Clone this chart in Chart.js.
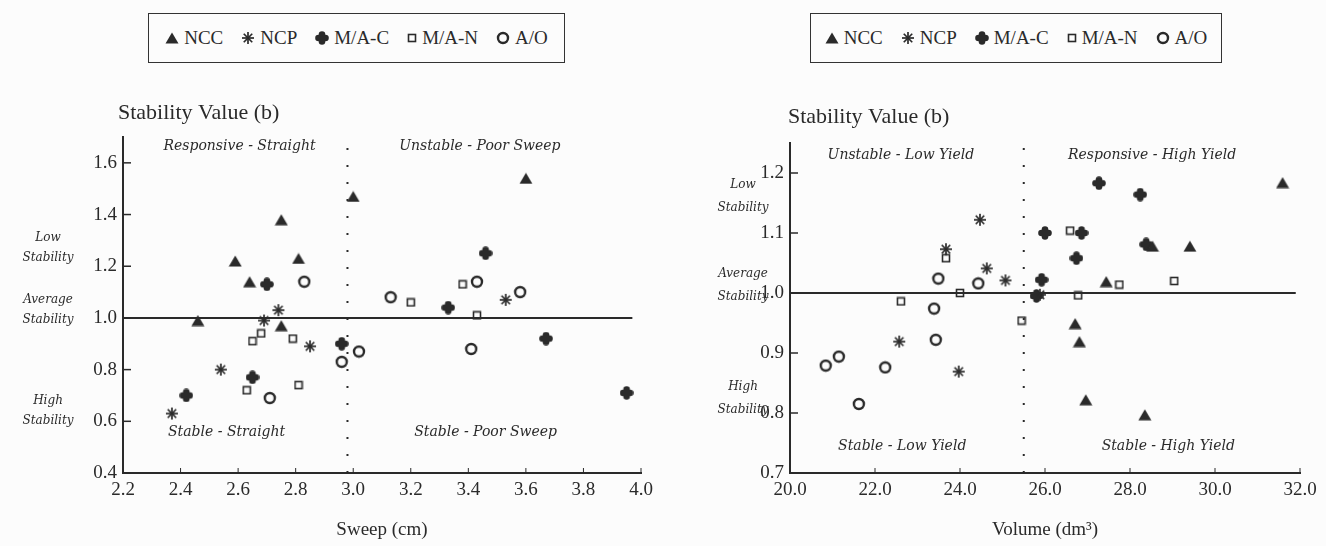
<!DOCTYPE html>
<html>
<head>
<meta charset="utf-8">
<script src="https://cdn.jsdelivr.net/npm/chart.js@4.4.0/dist/chart.umd.min.js"></script>
<style>
body { margin: 0; background: #fcfcfc; width: 1326px; height: 546px; overflow: hidden; position: relative; font-family: "Liberation Serif", serif; color: #2a2a2a; }
.wrap { position: absolute; top: 0; width: 663px; height: 546px; }
.legend { position: absolute; top: 13px; height: 50px; box-sizing: border-box; border: 1.5px solid #333; display: flex; align-items: center; justify-content: center; font-size: 19px; white-space: nowrap; }
.legend span { display: inline-flex; align-items: center; margin: 0 9px; flex: none; }
.legend img { margin-right: 5px; }
</style>
</head>
<body>
<div class="legend" id="leg1" style="left:148px;width:417px"></div>
<div class="legend" id="leg2" style="left:810px;width:412px"></div>
<div class="wrap" style="left:0"><canvas id="c1" width="663" height="546"></canvas></div>
<div class="wrap" style="left:663px"><canvas id="c2" width="663" height="546"></canvas></div>
<script>
const ink = '#2a2a2a';
const seriesNames = ['NCC', 'NCP', 'M/A-C', 'M/A-N', 'A/O'];

// Sweep (cm) vs stability value b
const sweepNCC = [2.46, 2.59, 2.64, 2.75, 2.81, 2.75, 3.00, 3.60];
const sweepNCC_b = [0.99, 1.22, 1.14, 1.38, 1.23, 0.97, 1.47, 1.54];
const sweepNCP = [2.37, 2.54, 2.69, 2.74, 2.85, 3.53];
const sweepNCP_b = [0.63, 0.80, 0.99, 1.03, 0.89, 1.07];
const sweepMAC = [2.42, 2.65, 2.70, 2.96, 3.33, 3.46, 3.67, 3.95];
const sweepMAC_b = [0.70, 0.77, 1.13, 0.90, 1.04, 1.25, 0.92, 0.71];
const sweepMAN = [2.63, 2.65, 2.68, 2.79, 2.81, 3.20, 3.38, 3.43];
const sweepMAN_b = [0.72, 0.91, 0.94, 0.92, 0.74, 1.06, 1.13, 1.01];
const sweepAO = [2.71, 2.83, 2.96, 3.02, 3.13, 3.41, 3.43, 3.58];
const sweepAO_b = [0.69, 1.14, 0.83, 0.87, 1.08, 0.88, 1.14, 1.10];

// Volume (dm3) vs stability value b
const volNCC = [26.71, 26.81, 26.96, 27.44, 28.35, 28.53, 29.41, 31.59];
const volNCC_b = [0.949, 0.919, 0.822, 1.019, 0.797, 1.078, 1.078, 1.184];
const volNCP = [22.57, 23.67, 23.97, 24.47, 24.63, 25.07, 25.88];
const volNCP_b = [0.919, 1.073, 0.869, 1.122, 1.041, 1.021, 0.997];
const volMAC = [25.80, 25.92, 26.00, 26.74, 26.86, 27.27, 28.24, 28.38];
const volMAC_b = [0.995, 1.022, 1.100, 1.058, 1.100, 1.183, 1.164, 1.081];
const volMAN = [22.61, 23.67, 24.00, 25.45, 26.59, 26.78, 27.75, 29.04];
const volMAN_b = [0.986, 1.058, 1.000, 0.954, 1.104, 0.996, 1.014, 1.020];
const volAO = [20.84, 21.15, 21.62, 22.24, 23.39, 23.43, 23.49, 24.43];
const volAO_b = [0.879, 0.894, 0.815, 0.876, 0.974, 0.922, 1.024, 1.016];

const avgStability = 1.0;
const meanSweep = 2.98;
const meanVolume = 25.5;

const sweepTicks = [2.2, 4.0, 0.2];
const volTicks = [20, 32, 2];
const sweepB = [0.4, 1.7, 0.2];
const volB = [0.7, 1.25, 0.1];

// marker images
function mk(w, h, draw) {
  const c = document.createElement('canvas');
  c.width = w; c.height = h;
  const g = c.getContext('2d');
  g.fillStyle = ink; g.strokeStyle = ink;
  draw(g);
  return c;
}
const markers = [
  mk(14, 12, g => { g.beginPath(); g.moveTo(7, 0.5); g.lineTo(13.5, 11.5); g.lineTo(0.5, 11.5); g.closePath(); g.fill(); }),
  mk(14, 14, g => {
    g.lineWidth = 1.7;
    for (let i = 0; i < 4; i++) {
      const a = i * Math.PI / 4;
      g.beginPath(); g.moveTo(7 - 6 * Math.cos(a), 7 - 6 * Math.sin(a)); g.lineTo(7 + 6 * Math.cos(a), 7 + 6 * Math.sin(a)); g.stroke();
    }
  }),
  mk(14, 14, g => {
    [[7, 3.5], [7, 10.5], [3.5, 7], [10.5, 7]].forEach(p => { g.beginPath(); g.arc(p[0], p[1], 3.3, 0, Math.PI * 2); g.fill(); });
    g.fillRect(4, 4, 6, 6);
  }),
  mk(10, 10, g => { g.lineWidth = 1.6; g.strokeRect(1.5, 1.5, 7, 7); }),
  mk(14, 14, g => { g.lineWidth = 2.4; g.beginPath(); g.arc(7, 7, 5, 0, Math.PI * 2); g.stroke(); })
];

['leg1', 'leg2'].forEach(id => {
  const el = document.getElementById(id);
  seriesNames.forEach((n, i) => {
    const s = document.createElement('span');
    const im = document.createElement('img');
    im.src = markers[i].toDataURL();
    s.appendChild(im);
    s.appendChild(document.createTextNode(n));
    el.appendChild(s);
  });
});

function pts(xs, ys) { return xs.map((v, i) => ({ x: v, y: ys[i] })); }

const decor = {
  id: 'decor',
  afterDraw(chart, args, o) {
    const { ctx, chartArea: a, scales: { x, y } } = chart;
    ctx.save();
    ctx.strokeStyle = ink; ctx.fillStyle = ink; ctx.lineWidth = 1.5;
    y.ticks.forEach(t => {
      const py = y.getPixelForValue(t.value);
      ctx.beginPath(); ctx.moveTo(a.left, py); ctx.lineTo(a.left + 8, py); ctx.stroke();
    });
    ctx.lineWidth = 1;
    x.ticks.forEach(t => {
      const px = x.getPixelForValue(t.value);
      ctx.beginPath(); ctx.moveTo(px, a.bottom); ctx.lineTo(px, a.bottom - 5); ctx.stroke();
    });
    ctx.textBaseline = 'middle';
    ctx.textAlign = 'left';
    ctx.font = '22px "Liberation Serif"';
    ctx.fillText('Stability Value (b)', a.left + o.titleDx, a.top + o.titleDy);
    ctx.textAlign = 'center';
    ctx.font = 'italic 14px "DejaVu Serif"';
    o.quads.forEach(q => ctx.fillText(q[0], x.getPixelForValue(q[1]), y.getPixelForValue(q[2])));
    ctx.font = 'italic 12px "DejaVu Serif"';
    o.side.forEach(s => {
      const py = y.getPixelForValue(s[2]);
      ctx.fillText(s[0], a.left - o.sideDx, py - o.sideGap / 2);
      ctx.fillText(s[1], a.left - o.sideDx, py + o.sideGap / 2);
    });
    ctx.restore();
  }
};

function makeChart(id, sets, xr, yr, xTitle, meanX, hEnd, pad, yW, decorOpts) {
  const datasets = sets.map((s, i) => ({
    label: seriesNames[i],
    data: pts(s[0], s[1]),
    pointStyle: markers[i],
    pointRadius: 6,
    backgroundColor: ink,
    borderColor: ink
  }));
  datasets.push({
    type: 'line', label: 'avg', order: 10,
    data: [{ x: xr[0], y: avgStability }, { x: hEnd, y: avgStability }],
    borderColor: ink, borderWidth: 2, pointRadius: 0
  });
  datasets.push({
    type: 'line', label: 'mean', order: 10,
    data: [{ x: meanX, y: yr[0] }, { x: meanX, y: yr[1] }],
    borderColor: ink, borderWidth: 2, borderDash: [2, 15], pointRadius: 0
  });
  const tickFont = { family: 'Liberation Serif', size: 19 };
  return new Chart(document.getElementById(id), {
    type: 'scatter',
    data: { datasets },
    plugins: [decor],
    options: {
      responsive: false,
      animation: false,
      layout: { padding: pad },
      plugins: { legend: { display: false }, tooltip: { enabled: false }, decor: decorOpts },
      scales: {
        x: {
          min: xr[0], max: xr[1],
          ticks: { stepSize: xr[2], includeBounds: false, color: ink, font: tickFont, padding: 6, maxRotation: 0,
                   callback: v => v.toFixed(1) },
          grid: { drawOnChartArea: false, drawTicks: false },
          border: { color: ink, width: 2 },
          title: { display: true, text: xTitle, color: ink, font: { family: 'Liberation Serif', size: 19 }, padding: { top: 0, bottom: 5 } },
          afterFit: s => { s.height = 73; }
        },
        y: {
          min: yr[0], max: yr[1],
          ticks: { stepSize: yr[2], includeBounds: false, color: ink, font: tickFont, padding: 6,
                   callback: v => v.toFixed(1) },
          grid: { drawOnChartArea: false, drawTicks: false },
          border: { color: ink, width: 2 },
          afterFit: s => { s.width = yW; }
        }
      }
    }
  });
}

makeChart('c1',
  [[sweepNCC, sweepNCC_b], [sweepNCP, sweepNCP_b], [sweepMAC, sweepMAC_b], [sweepMAN, sweepMAN_b], [sweepAO, sweepAO_b]],
  sweepTicks, sweepB, 'Sweep (cm)', meanSweep, 3.97,
  { left: 0, right: 22, top: 137, bottom: 0 }, 123,
  {
    titleDx: -5, titleDy: -24, sideDx: 75, sideGap: 20,
    quads: [['Responsive - Straight', 2.605, 1.665], ['Unstable - Poor Sweep', 3.44, 1.665],
            ['Stable - Straight', 2.56, 0.558], ['Stable - Poor Sweep', 3.46, 0.558]],
    side: [['Low', 'Stability', 1.27], ['Average', 'Stability', 1.03], ['High', 'Stability', 0.64]]
  });

makeChart('c2',
  [[volNCC, volNCC_b], [volNCP, volNCP_b], [volMAC, volMAC_b], [volMAN, volMAN_b], [volAO, volAO_b]],
  volTicks, volB, 'Volume (dm³)', meanVolume, 31.9,
  { left: 0, right: 26, top: 143, bottom: 0 }, 127,
  {
    titleDx: -2, titleDy: -26, sideDx: 47, sideGap: 23,
    quads: [['Unstable - Low Yield', 22.61, 1.23], ['Responsive - High Yield', 28.52, 1.23],
            ['Stable - Low Yield', 22.64, 0.745], ['Stable - High Yield', 28.9, 0.745]],
    side: [['Low', 'Stability', 1.161], ['Average', 'Stability', 1.012], ['High', 'Stability', 0.825]]
  });
</script>
</body>
</html>
